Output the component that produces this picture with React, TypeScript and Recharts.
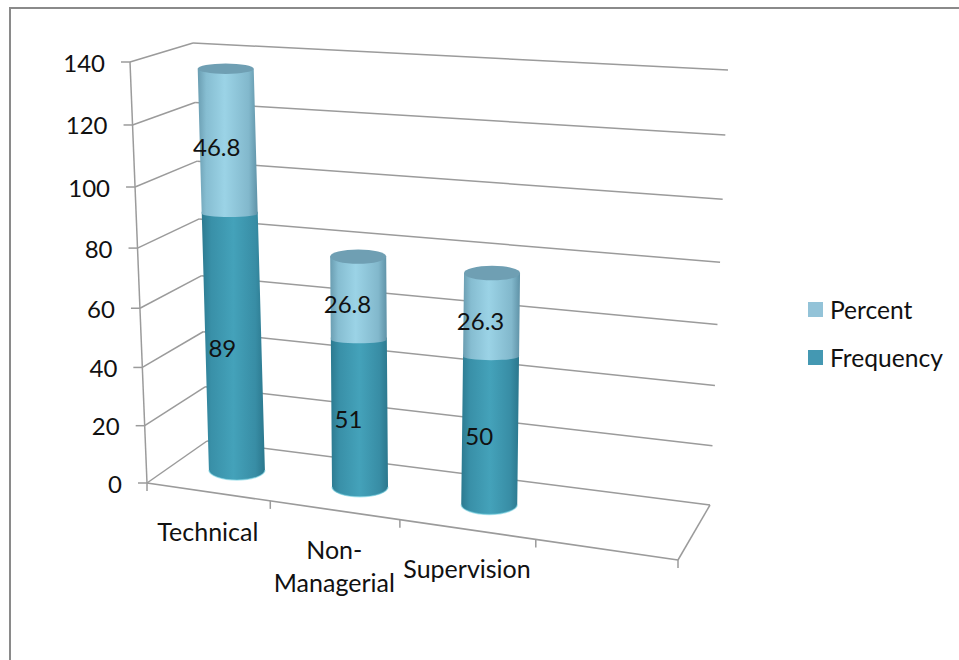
import React from "react";
import { BarChart, Bar, XAxis, YAxis, Legend, Customized, LabelList, CartesianGrid } from "recharts";

const categories = ["Technical", "Non-Managerial", "Supervision", ""];
const frequency = [89, 51, 50, null];
const percent = [46.8, 26.8, 26.3, null];
const valueTicks = [0, 20, 40, 60, 80, 100, 120, 140];

const rows = categories.map((category, i) => ({
  category,
  Frequency: frequency[i],
  Percent: percent[i],
}));

const W = 959;
const H = 660;
const PLOT = { left: 147, right: 678, top: 62, bottom: 483 };
const FONT = "Lato, Carlito, sans-serif";
const FONT_SIZE = 24;
const GRID = "#9b9b9b";
const INK = "#111";

type Pt = { x: number; y: number };
const mix = (a: number, b: number, k: number) => a + (b - a) * k;
const mixPt = (a: Pt, b: Pt, k: number): Pt => ({ x: mix(a.x, b.x, k), y: mix(a.y, b.y, k) });

// Corners of the 3D box as seen from the camera.
const FLOOR = {
  fl: { x: 147, y: 483 },
  fr: { x: 678, y: 560 },
  bl: { x: 207, y: 441 },
  br: { x: 710, y: 505 },
};
const CEILING = {
  fl: { x: 130, y: 62 },
  fr: { x: 698, y: 90 },
  bl: { x: 193, y: 43 },
  br: { x: 728, y: 70 },
};

// u runs along the categories, v runs front to back, t is the height fraction.
function project(u: number, v: number, t: number): Pt {
  const pu = u - 0.095 * u * (1 - u);
  const pt = t - 0.055 * t * (1 - t);
  const plane = (c: typeof FLOOR) => mixPt(mixPt(c.fl, c.fr, pu), mixPt(c.bl, c.br, pu), v);
  return mixPt(plane(FLOOR), plane(CEILING), pt);
}

const heightOf = (py: number) => (PLOT.bottom - py) / (PLOT.bottom - PLOT.top);
const alongOf = (px: number) => (px - PLOT.left) / (PLOT.right - PLOT.left);

function Seg({ a, b, w = 1.5, c = GRID }: { a: Pt; b: Pt; w?: number; c?: string }) {
  return <line x1={a.x} y1={a.y} x2={b.x} y2={b.y} stroke={c} strokeWidth={w} />;
}

// One gridline folded across the side wall and the back wall.
function WallLine(props: any) {
  const t = heightOf(props.y1);
  const front = project(0, 0, t);
  const corner = project(0, 1, t);
  const far = project(1, 1, t);
  return (
    <g key={props.index}>
      <Seg a={front} b={corner} />
      <Seg a={corner} b={far} />
    </g>
  );
}

// Value tick: the label and a short mark left of the axis spine.
function ValueTick(props: any) {
  const front = project(0, 0, heightOf(props.y));
  return (
    <g>
      <Seg a={{ x: front.x - 9, y: front.y }} b={front} />
      <text
        x={front.x - 25}
        y={front.y}
        textAnchor="end"
        dominantBaseline="central"
        fontFamily={FONT}
        fontSize={FONT_SIZE}
        fill={INK}
      >
        {props.payload.value}
      </text>
    </g>
  );
}

// Category tick: wrapped label under the front floor edge, and the mark at the slot's end.
function CategoryTick(props: any) {
  const u = alongOf(props.x);
  const slot = 1 / categories.length;
  const foot = project(u, 0, 0);
  const end = project(u + slot / 2, 0, 0);
  const lines = String(props.payload.value).split(/(?<=-)/);
  return (
    <g>
      <Seg a={end} b={{ x: end.x, y: end.y + 8 }} />
      <text x={foot.x} y={foot.y + 39} textAnchor="middle" dominantBaseline="central" fontFamily={FONT} fontSize={25} fill={INK}>
        {lines.map((line, i) => (
          <tspan key={i} x={foot.x} dy={i === 0 ? 0 : 33}>
            {line}
          </tspan>
        ))}
      </text>
    </g>
  );
}

// Axis spine, front and right floor edges, and the frame around the chart.
function Chrome() {
  const origin = project(0, 0, 0);
  const frontRight = project(1, 0, 0);
  const backRight = project(1, 1, 0);
  return (
    <g>
      <path d={`M10 ${H} V8 H${W}`} fill="none" stroke="#8a8a8a" strokeWidth={2} />
      <Seg a={project(0, 0, 1)} b={origin} />
      <Seg a={origin} b={frontRight} w={1.7} />
      <Seg a={frontRight} b={backRight} />
      <Seg a={origin} b={{ x: origin.x, y: origin.y + 8 }} />
    </g>
  );
}

function cylinderGeometry(props: any) {
  const u = alongOf(props.x + props.width / 2);
  const low = project(u, 0.5, heightOf(props.y + props.height));
  const high = project(u, 0.5, heightOf(props.y));
  low.x += 1;
  high.x += 1;
  const r = props.width / 2;
  const ryLow = 10 - 5 * heightOf(props.y + props.height);
  const ryHigh = 10 - 5 * heightOf(props.y);
  return { low, high, r, ryLow, ryHigh };
}

function FrequencyShape(props: any) {
  if (props.payload?.Frequency == null) return null;
  const { low, high, r, ryLow } = cylinderGeometry(props);
  const body = `M${high.x - r} ${high.y} L${low.x - r} ${low.y} A${r} ${ryLow} 0 0 0 ${low.x + r} ${low.y} L${high.x + r} ${high.y} Z`;
  const rim = `M${low.x - r} ${low.y} A${r} ${ryLow} 0 0 0 ${low.x + r} ${low.y}`;
  return (
    <g>
      <path d={body} fill="url(#frequencyBody)" />
      <path d={rim} fill="none" stroke="#72cfe0" strokeOpacity={0.55} strokeWidth={1.4} />
    </g>
  );
}

function PercentShape(props: any) {
  if (props.payload?.Percent == null) return null;
  const { low, high, r, ryLow, ryHigh } = cylinderGeometry(props);
  // The seam between the two segments reads nearly flat.
  const seam = ryLow * 0.45;
  const body = `M${high.x - r} ${high.y} L${low.x - r} ${low.y + 2} A${r} ${seam} 0 0 0 ${low.x + r} ${low.y + 2} L${high.x + r} ${high.y} Z`;
  return (
    <g>
      <path d={body} fill="url(#percentBody)" />
      <ellipse cx={high.x} cy={high.y} rx={r} ry={ryHigh} fill="#6f9fb3" />
    </g>
  );
}

// Value printed near the middle of its segment, slightly left of the axis of the cylinder.
function SegmentLabel(props: any) {
  if (props.value == null) return null;
  const g = cylinderGeometry(props);
  const mid = mixPt(g.low, g.high, 0.5);
  return (
    <text x={mid.x - 11} y={mid.y + 6.5} textAnchor="middle" dominantBaseline="central" fontFamily={FONT} fontSize={FONT_SIZE} fill={INK}>
      {props.value}
    </text>
  );
}

function KeyList({ payload }: any) {
  const entries = [...(payload ?? [])].reverse();
  return (
    <div style={{ position: "absolute", left: 0, top: 0, width: 0, height: 0 }}>
      {entries.map((entry: any, i: number) => (
        <div
          key={entry.value}
          style={{
            position: "absolute",
            left: 808,
            top: 289 + i * 48,
            height: 40,
            width: 150,
            display: "flex",
            alignItems: "center",
            fontFamily: FONT,
            fontSize: 24.6,
            color: INK,
            whiteSpace: "nowrap",
          }}
        >
          <span style={{ width: 15, height: 15, marginRight: 7, background: entry.color, display: "inline-block" }} />
          {entry.value}
        </div>
      ))}
    </div>
  );
}

export default function App() {
  return (
    <div style={{ position: "absolute", left: 0, top: 0, width: W, height: H, background: "#fff" }}>
      <BarChart
        width={W}
        height={H}
        data={rows}
        barSize={56}
        margin={{ left: PLOT.left - 1, right: W - PLOT.right, top: PLOT.top, bottom: H - PLOT.bottom - 1 }}
      >
        <defs>
          <linearGradient id="frequencyBody" x1="0" x2="1" y1="0" y2="0">
            <stop offset="0" stopColor="#2c7a90" />
            <stop offset="0.15" stopColor="#3990a8" />
            <stop offset="0.5" stopColor="#44a2ba" />
            <stop offset="0.85" stopColor="#388da5" />
            <stop offset="1" stopColor="#2b778d" />
          </linearGradient>
          <linearGradient id="percentBody" x1="0" x2="1" y1="0" y2="0">
            <stop offset="0" stopColor="#6a9db1" />
            <stop offset="0.14" stopColor="#86bdd1" />
            <stop offset="0.45" stopColor="#9bd3e6" />
            <stop offset="0.85" stopColor="#82b8cc" />
            <stop offset="1" stopColor="#5f92a7" />
          </linearGradient>
        </defs>
        <CartesianGrid vertical={false} horizontal={WallLine} horizontalValues={valueTicks} />
        <YAxis
          type="number"
          domain={[0, 140]}
          ticks={valueTicks}
          width={1}
          axisLine={false}
          tickLine={false}
          interval={0}
          tick={ValueTick}
        />
        <XAxis dataKey="category" height={1} axisLine={false} tickLine={false} interval={0} tick={CategoryTick} />
        <Customized component={Chrome} />
        <Legend content={KeyList} wrapperStyle={{ position: "absolute", left: 0, top: 0, width: 0, height: 0 }} />
        <Bar dataKey="Frequency" stackId="total" fill="#4498b2" shape={FrequencyShape} isAnimationActive={false}>
          <LabelList dataKey="Frequency" content={SegmentLabel} />
        </Bar>
        <Bar dataKey="Percent" stackId="total" fill="#93c3d8" shape={PercentShape} isAnimationActive={false}>
          <LabelList dataKey="Percent" content={SegmentLabel} />
        </Bar>
      </BarChart>
    </div>
  );
}
